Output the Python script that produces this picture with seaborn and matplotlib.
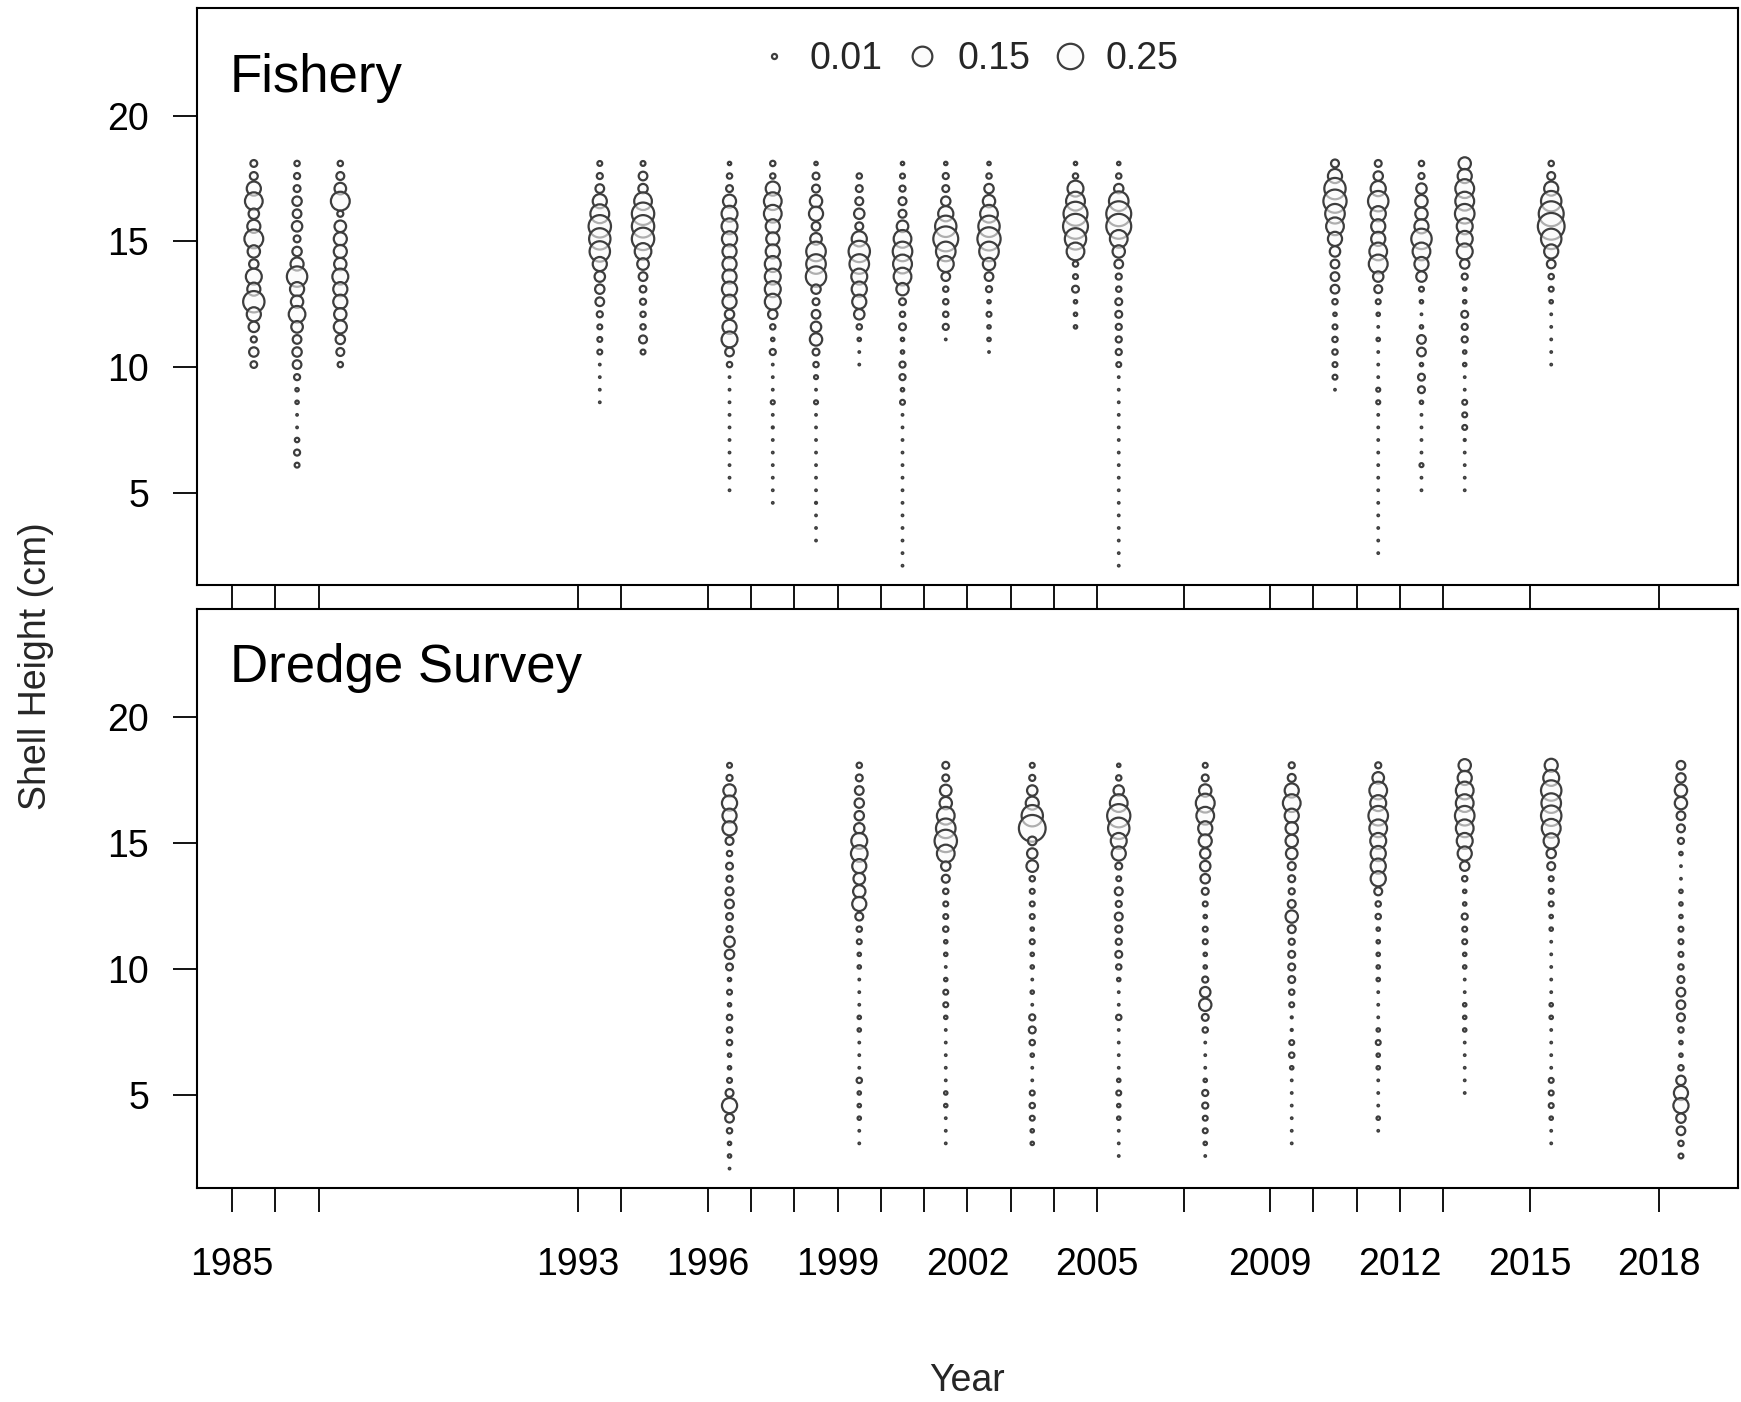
import numpy as np
import pandas as pd
import matplotlib
matplotlib.use("Agg")
import matplotlib.pyplot as plt
from matplotlib.lines import Line2D
import seaborn as sns

sns.set_style("white")
plt.rcParams['font.family'] = ['Liberation Sans', 'DejaVu Sans']

# Shell-height bins (cm), listed from the top bin downward
bins = [round(18.1 - 0.5 * i, 1) for i in range(33)]

# ---- Fishery proportions by year (top bin first) ----
fish_1985 = [0.018, 0.024, 0.077, 0.121, 0.042, 0.066, 0.137, 0.059, 0.034, 0.098, 0.066, 0.176, 0.077, 0.042, 0.014, 0.034, 0.017]
fish_1986 = [0.011, 0.014, 0.018, 0.034, 0.029, 0.042, 0.018, 0.034, 0.066, 0.161, 0.077, 0.059, 0.107, 0.052, 0.029, 0.034, 0.029, 0.014, 0.0045, 0.0045, 0.001, 0.001, 0.0075, 0.014, 0.009]
fish_1987 = [0.011, 0.024, 0.052, 0.137, 0.014, 0.052, 0.066, 0.066, 0.059, 0.098, 0.077, 0.077, 0.059, 0.066, 0.034, 0.024, 0.011]
fish_1993 = [0.009, 0.014, 0.029, 0.077, 0.137, 0.194, 0.176, 0.161, 0.077, 0.042, 0.034, 0.029, 0.014, 0.009, 0.009, 0.009, 0.001, 0.001, 0.001, 0.001]
fish_1994 = [0.009, 0.029, 0.034, 0.121, 0.194, 0.194, 0.194, 0.107, 0.052, 0.029, 0.017, 0.014, 0.011, 0.011, 0.024, 0.009]
fish_1996 = [0.0045, 0.011, 0.018, 0.066, 0.098, 0.098, 0.089, 0.077, 0.077, 0.077, 0.089, 0.077, 0.034, 0.077, 0.098, 0.029, 0.011, 0.001, 0.001, 0.001, 0.001, 0.001, 0.001, 0.001, 0.001, 0.001, 0.001]
fish_1997 = [0.011, 0.011, 0.077, 0.121, 0.121, 0.077, 0.066, 0.077, 0.098, 0.098, 0.098, 0.098, 0.034, 0.011, 0.0045, 0.014, 0.001, 0.001, 0.001, 0.006, 0.001, 0.0015, 0.001, 0.001, 0.001, 0.001, 0.001, 0.001]
fish_1998 = [0.0045, 0.018, 0.024, 0.059, 0.077, 0.029, 0.052, 0.148, 0.148, 0.161, 0.034, 0.018, 0.029, 0.042, 0.059, 0.018, 0.011, 0.006, 0.001, 0.006, 0.001, 0.001, 0.001, 0.001, 0.001, 0.001, 0.001, 0.0015, 0.001, 0.001, 0.001]
fish_1999 = [0.0, 0.011, 0.018, 0.024, 0.042, 0.024, 0.089, 0.176, 0.148, 0.098, 0.089, 0.077, 0.042, 0.011, 0.0045, 0.001, 0.001]
fish_2000 = [0.0045, 0.009, 0.014, 0.024, 0.024, 0.052, 0.121, 0.148, 0.137, 0.121, 0.059, 0.018, 0.011, 0.018, 0.0045, 0.0045, 0.014, 0.014, 0.0045, 0.009, 0.001, 0.001, 0.001, 0.001, 0.001, 0.001, 0.001, 0.001, 0.001, 0.001, 0.001, 0.001, 0.001]
fish_2001 = [0.0045, 0.014, 0.018, 0.034, 0.089, 0.176, 0.240, 0.148, 0.098, 0.029, 0.011, 0.011, 0.011, 0.014, 0.001]
fish_2002 = [0.0045, 0.011, 0.034, 0.059, 0.121, 0.176, 0.208, 0.148, 0.059, 0.029, 0.014, 0.0045, 0.009, 0.0045, 0.0045, 0.001]
fish_2004 = [0.0045, 0.011, 0.098, 0.137, 0.222, 0.240, 0.176, 0.121, 0.011, 0.009, 0.018, 0.0045, 0.0045, 0.0045]
fish_2005 = [0.0045, 0.011, 0.034, 0.148, 0.240, 0.240, 0.121, 0.059, 0.029, 0.014, 0.011, 0.018, 0.018, 0.014, 0.014, 0.014, 0.009, 0.001, 0.001, 0.001, 0.001, 0.001, 0.001, 0.001, 0.001, 0.001, 0.001, 0.001, 0.001, 0.001, 0.001, 0.001, 0.001]
fish_2010 = [0.024, 0.077, 0.176, 0.208, 0.148, 0.121, 0.077, 0.042, 0.029, 0.029, 0.029, 0.011, 0.0045, 0.009, 0.011, 0.011, 0.009, 0.009, 0.001]
fish_2011 = [0.018, 0.034, 0.089, 0.161, 0.089, 0.077, 0.077, 0.121, 0.137, 0.042, 0.024, 0.009, 0.0045, 0.001, 0.0045, 0.001, 0.001, 0.001, 0.006, 0.006, 0.001, 0.001, 0.001, 0.001, 0.001, 0.001, 0.001, 0.001, 0.001, 0.001, 0.001, 0.001]
fish_2012 = [0.011, 0.014, 0.042, 0.059, 0.059, 0.077, 0.161, 0.121, 0.077, 0.042, 0.009, 0.0045, 0.001, 0.0045, 0.029, 0.029, 0.0045, 0.018, 0.018, 0.0045, 0.001, 0.001, 0.001, 0.001, 0.006, 0.001, 0.001]
fish_2013 = [0.059, 0.077, 0.137, 0.137, 0.148, 0.098, 0.098, 0.098, 0.034, 0.014, 0.0045, 0.0045, 0.018, 0.014, 0.014, 0.0045, 0.0045, 0.001, 0.001, 0.009, 0.009, 0.009, 0.0015, 0.001, 0.001, 0.001, 0.001]
fish_2015 = [0.011, 0.024, 0.077, 0.161, 0.240, 0.276, 0.161, 0.077, 0.029, 0.011, 0.009, 0.0045, 0.001, 0.001, 0.001, 0.001, 0.001]

# ---- Dredge survey proportions by year (top bin first) ----
surv_1996 = [0.009, 0.014, 0.059, 0.089, 0.077, 0.077, 0.024, 0.011, 0.018, 0.014, 0.024, 0.029, 0.018, 0.014, 0.042, 0.034, 0.018, 0.0045, 0.009, 0.0045, 0.011, 0.011, 0.011, 0.0045, 0.0045, 0.009, 0.024, 0.089, 0.029, 0.011, 0.0045, 0.0045, 0.001]
surv_1999 = [0.011, 0.018, 0.029, 0.034, 0.034, 0.042, 0.098, 0.107, 0.077, 0.052, 0.059, 0.077, 0.024, 0.011, 0.009, 0.0045, 0.0045, 0.001, 0.001, 0.001, 0.0045, 0.0045, 0.001, 0.001, 0.001, 0.011, 0.0045, 0.0045, 0.0045, 0.001, 0.001]
surv_2001 = [0.018, 0.018, 0.052, 0.059, 0.121, 0.148, 0.194, 0.121, 0.034, 0.024, 0.011, 0.009, 0.009, 0.011, 0.0045, 0.0045, 0.001, 0.0045, 0.009, 0.009, 0.0045, 0.001, 0.001, 0.001, 0.001, 0.001, 0.0045, 0.0045, 0.001, 0.001, 0.001]
surv_2003 = [0.009, 0.014, 0.042, 0.066, 0.176, 0.276, 0.029, 0.042, 0.052, 0.011, 0.009, 0.009, 0.009, 0.0045, 0.009, 0.0045, 0.0045, 0.001, 0.0045, 0.001, 0.014, 0.018, 0.011, 0.0045, 0.001, 0.001, 0.009, 0.011, 0.009, 0.0045, 0.0045]
surv_2005 = [0.0045, 0.011, 0.042, 0.121, 0.208, 0.176, 0.098, 0.077, 0.018, 0.009, 0.024, 0.014, 0.024, 0.018, 0.014, 0.018, 0.011, 0.0045, 0.001, 0.001, 0.011, 0.001, 0.001, 0.001, 0.001, 0.0045, 0.009, 0.0045, 0.0045, 0.001, 0.001, 0.001]
surv_2007 = [0.009, 0.018, 0.059, 0.137, 0.121, 0.077, 0.066, 0.042, 0.042, 0.034, 0.018, 0.009, 0.0045, 0.009, 0.009, 0.0045, 0.0045, 0.014, 0.042, 0.059, 0.018, 0.011, 0.001, 0.001, 0.001, 0.0045, 0.014, 0.014, 0.009, 0.009, 0.0045, 0.001]
surv_2009 = [0.014, 0.024, 0.077, 0.121, 0.077, 0.059, 0.059, 0.052, 0.024, 0.018, 0.014, 0.024, 0.059, 0.024, 0.014, 0.018, 0.018, 0.018, 0.011, 0.009, 0.0015, 0.0015, 0.009, 0.011, 0.0045, 0.001, 0.001, 0.001, 0.001, 0.001, 0.001]
surv_2011 = [0.014, 0.052, 0.121, 0.098, 0.148, 0.121, 0.098, 0.089, 0.089, 0.089, 0.024, 0.011, 0.011, 0.0045, 0.0045, 0.0045, 0.0045, 0.0045, 0.001, 0.001, 0.001, 0.0045, 0.009, 0.0045, 0.0045, 0.001, 0.001, 0.001, 0.0045, 0.001]
surv_2013 = [0.059, 0.077, 0.121, 0.121, 0.148, 0.121, 0.098, 0.077, 0.034, 0.011, 0.0045, 0.0045, 0.014, 0.009, 0.009, 0.0045, 0.0045, 0.001, 0.001, 0.0045, 0.0045, 0.0045, 0.001, 0.001, 0.001, 0.001, 0.001]
surv_2015 = [0.066, 0.098, 0.161, 0.148, 0.161, 0.137, 0.089, 0.034, 0.024, 0.009, 0.009, 0.009, 0.0045, 0.0045, 0.001, 0.001, 0.001, 0.001, 0.001, 0.0045, 0.0045, 0.001, 0.001, 0.001, 0.001, 0.009, 0.009, 0.009, 0.0045, 0.001, 0.001]
surv_2018 = [0.029, 0.034, 0.059, 0.059, 0.029, 0.024, 0.014, 0.0045, 0.001, 0.001, 0.0045, 0.0045, 0.0045, 0.009, 0.009, 0.009, 0.011, 0.018, 0.029, 0.029, 0.024, 0.011, 0.0045, 0.0045, 0.011, 0.034, 0.077, 0.089, 0.034, 0.029, 0.011, 0.009]

fishery = {1985: fish_1985, 1986: fish_1986, 1987: fish_1987, 1993: fish_1993, 1994: fish_1994,
           1996: fish_1996, 1997: fish_1997, 1998: fish_1998, 1999: fish_1999, 2000: fish_2000,
           2001: fish_2001, 2002: fish_2002, 2004: fish_2004, 2005: fish_2005, 2010: fish_2010,
           2011: fish_2011, 2012: fish_2012, 2013: fish_2013, 2015: fish_2015}
survey = {1996: surv_1996, 1999: surv_1999, 2001: surv_2001, 2003: surv_2003, 2005: surv_2005,
          2007: surv_2007, 2009: surv_2009, 2011: surv_2011, 2013: surv_2013, 2015: surv_2015,
          2018: surv_2018}

legend_values = [0.01, 0.15, 0.25]
legend_labels = ["0.01", "0.15", "0.25"]
shown_year_labels = [1985, 1993, 1996, 1999, 2002, 2005, 2009, 2012, 2015, 2018]
panel_titles = ["Fishery", "Dredge Survey"]


def to_frame(dct):
    rows = []
    for yr, props in dct.items():
        for h, p in zip(bins, props):
            if p > 0:
                rows.append({"year": yr, "xpos": yr + 0.5, "height": h, "prop": p})
    return pd.DataFrame(rows)


df_f = to_frame(fishery)
df_s = to_frame(survey)
tick_years = sorted(set(fishery) | set(survey))

# marker area (pt^2) per unit proportion
AREA = 1340.0
EDGE = (0.24, 0.24, 0.24, 1.0)
FACE = (0.985, 0.985, 0.985, 0.6)
LW = 1.6

fig = plt.figure(figsize=(17.41, 14.02), dpi=100)
ax1 = fig.add_axes([0.1130, 0.5827, 0.8853, 0.4117])
ax2 = fig.add_axes([0.1130, 0.15264, 0.8853, 0.41277])

for ax, df, title, ty in [(ax1, df_f, panel_titles[0], 0.854), (ax2, df_s, panel_titles[1], 0.874)]:
    sns.scatterplot(data=df, x="xpos", y="height", size="prop", sizes=(0, AREA),
                    size_norm=(0, 1), legend=False, ax=ax)
    coll = ax.collections[-1]
    coll.set_facecolor(FACE)
    coll.set_edgecolor(EDGE)
    coll.set_linewidth(LW)
    ax.set_xlim(1984.18, 2019.82)
    ax.set_ylim(1.33, 24.29)
    ax.set_xlabel("")
    ax.set_ylabel("")
    ax.set_yticks([5, 10, 15, 20])
    ax.set_xticks(tick_years)
    ax.set_xticklabels([str(y) if y in shown_year_labels else "" for y in tick_years])
    ax.tick_params(axis="both", direction="out", length=17.3, width=1.3, labelsize=27,
                   color="black", labelcolor="black")
    ax.tick_params(axis="x", pad=25, bottom=True, top=False)
    ax.tick_params(axis="y", pad=17, left=True, right=False)
    for sp in ax.spines.values():
        sp.set_visible(True)
        sp.set_color("black")
        sp.set_linewidth(1.5)
    ax.text(0.0216, ty, title, transform=ax.transAxes, fontsize=38,
            ha="left", va="baseline", color="black")

ax1.tick_params(axis="x", labelbottom=False)

handles = [Line2D([], [], ls="", marker="o", markersize=np.sqrt(AREA * v),
                  markerfacecolor=FACE, markeredgecolor=EDGE, markeredgewidth=LW)
           for v in legend_values]
ax1.legend(handles, legend_labels, ncol=3, loc="center", bbox_to_anchor=(0.4995, 0.911),
           frameon=False, fontsize=27, handlelength=1.0, handletextpad=0.45,
           columnspacing=0.55, borderpad=0, borderaxespad=0)

fig.text(0.5555, 0.008, "Year", fontsize=27, ha="center", va="baseline")
fig.text(0.0205, 0.525, "Shell Height (cm)", fontsize=27, ha="center", va="center",
         rotation=90)

fig.savefig("out.png", dpi=100)
